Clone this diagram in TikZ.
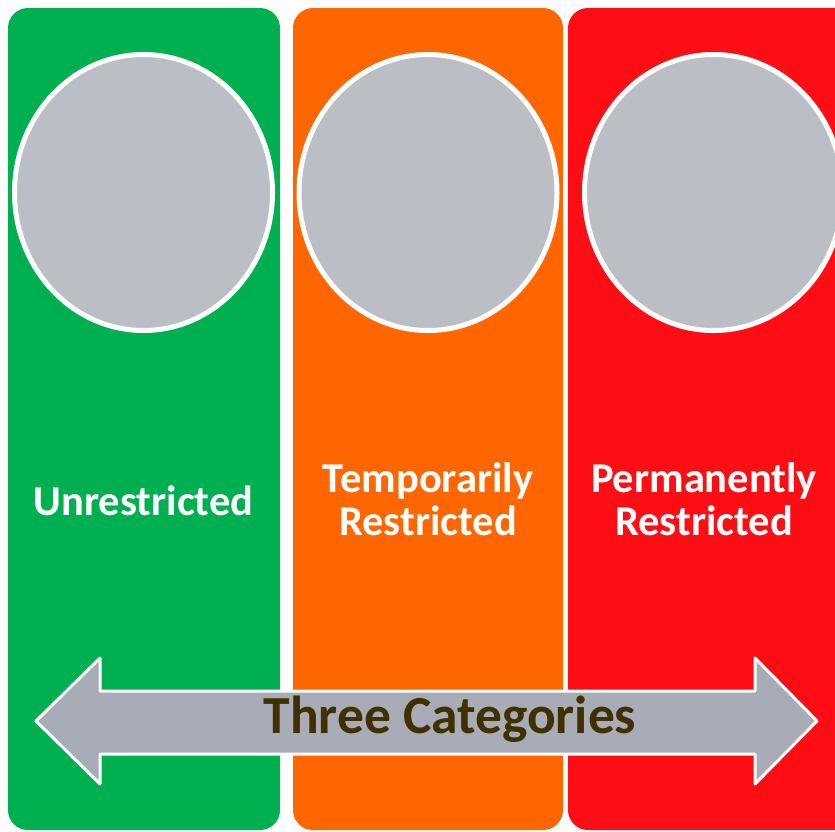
\documentclass[tikz,border=0pt]{standalone}
\usepackage{fontspec}
\setmainfont{Carlito}

\definecolor{colgreen}{HTML}{00AF50}
\definecolor{colorange}{HTML}{FF6600}
\definecolor{colred}{HTML}{FF0D14}
\definecolor{discgray}{HTML}{BCBEC5}
\definecolor{arrowgray}{HTML}{A8ACB6}
\definecolor{darkbrown}{HTML}{3F3000}

\begin{document}
\begin{tikzpicture}[x=1pt, y=-1pt,
        column/.style={rounded corners=20pt},
        disc/.style={fill=discgray, draw=white, line width=5pt},
        label/.style={text=white, font=\fontsize{42.5}{43}\selectfont\bfseries, align=center, anchor=base}]
        \clip (0,0) rectangle (835,831);
        \fill[white] (0,0) rectangle (835,831);

        % the three columns
        \fill[column, colgreen] (8,8) rectangle (280,830);
        \fill[column, colorange] (293,8) rectangle (563,830);
        \fill[column, colred] (568,8) rectangle (860,830);

        \draw[disc] (143.5,192.5) ellipse (129 and 138);
        \draw[disc] (428,192.5) ellipse (129 and 138);
        \draw[disc] (713.5,192.5) ellipse (129 and 138);

        \node[label] (unres) at (143.5,515) {Unrestricted};
        \node[label] (temp) at (428,535) {Temporarily\\Restricted};
        \node[label] (perm) at (704,535) {Permanently\\Restricted};

        % double arrow across the bottom
        \draw[fill=arrowgray, draw=white, line width=3pt, line join=round]
            (36,721) -- (100,658) -- (100,691) -- (755,691) -- (755,658) -- (817,721)
            -- (755,784) -- (755,754) -- (100,754) -- (100,784) -- cycle;
        \node[text=darkbrown, font=\fontsize{53.5}{54}\selectfont\bfseries, anchor=base] (cats) at (450,733) {Three Categories};
\end{tikzpicture}
\end{document}
